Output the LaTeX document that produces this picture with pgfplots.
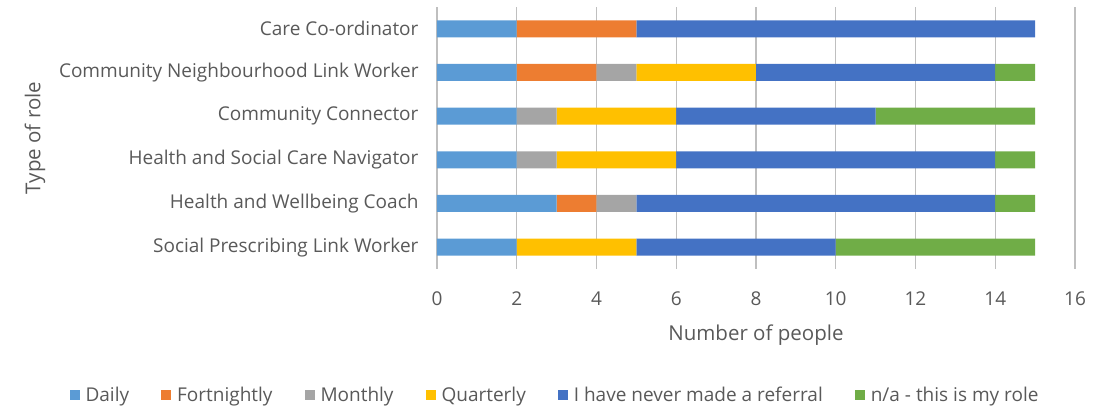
\documentclass[border=0pt]{standalone}
\usepackage{pgfplots}
\pgfplotsset{compat=1.18}
\usepackage{fontspec}
\setmainfont{Open Sans}
\definecolor{cDaily}{HTML}{5B9BD5}
\definecolor{cFort}{HTML}{ED7D31}
\definecolor{cMon}{HTML}{A5A5A5}
\definecolor{cQuar}{HTML}{FFC000}
\definecolor{cNever}{HTML}{4472C4}
\definecolor{cNA}{HTML}{70AD47}
\definecolor{txt}{HTML}{595959}
\definecolor{grid}{HTML}{D9D9D9}
\begin{document}
\begin{tikzpicture}
\useasboundingbox (-437pt,-137pt) rectangle (667pt,269pt);
\begin{axis}[
  scale only axis,
  width=638pt, height=262pt,
  xbar stacked,
  bar width=17pt,
  xmin=0, xmax=16,
  ymin=-0.5, ymax=5.5,
  xtick={0,2,...,16},
  ytick={0,1,2,3,4,5},
  yticklabels={{Social Prescribing Link Worker\hspace{12pt}},{Health and Wellbeing Coach},{Health and Social Care Navigator},{Community Connector},{Community Neighbourhood Link Worker},{Care Co-ordinator}},
  axis line style={draw=none},
  every major tick/.append style={opacity=0},
  every tick/.append style={opacity=0},
  tick style={draw=none, opacity=0},
  major tick length=0pt,
  xtick pos=bottom, ytick pos=left,
  ymajorgrids=false,
  xmajorgrids,
  major grid style={grid, line width=1.2pt},
  /pgf/number format/assume math mode=true,
  ticklabel style={font=\fontsize{19}{22}\selectfont, text=txt},
  yticklabel style={xshift=-15pt},
  xticklabel style={yshift=-19pt},
  xlabel={Number of people},
  ylabel={Type of role},
  label style={font=\fontsize{20.5}{24}\selectfont, text=txt},
  xlabel style={yshift=-12pt},
  ylabel style={at={(axis description cs:-0.63,0.5)}, anchor=center},
  legend columns=6,
  legend style={draw=none, fill=none, at={(axis description cs:0.185,-0.48)}, anchor=center,
    font=\fontsize{19}{22}\selectfont, text=txt,
    /tikz/every odd column/.append style={column sep=4pt},
    /tikz/every even column/.append style={column sep=30pt}},
  legend image code/.code={\fill[#1] (0pt,-5pt) rectangle (10pt,5pt);},
]
\addplot[fill=cDaily, draw=none] coordinates {(2,0) (3,1) (2,2) (2,3) (2,4) (2,5)};
\addplot[fill=cFort, draw=none] coordinates {(0,0) (1,1) (0,2) (0,3) (2,4) (3,5)};
\addplot[fill=cMon, draw=none] coordinates {(0,0) (1,1) (1,2) (1,3) (1,4) (0,5)};
\addplot[fill=cQuar, draw=none] coordinates {(3,0) (0,1) (3,2) (3,3) (3,4) (0,5)};
\addplot[fill=cNever, draw=none] coordinates {(5,0) (9,1) (8,2) (5,3) (6,4) (10,5)};
\addplot[fill=cNA, draw=none] coordinates {(5,0) (1,1) (1,2) (4,3) (1,4) (0,5)};
\legend{Daily, Fortnightly, Monthly, Quarterly, I have never made a referral, n/a - this is my role}
\end{axis}
\end{tikzpicture}
\end{document}
